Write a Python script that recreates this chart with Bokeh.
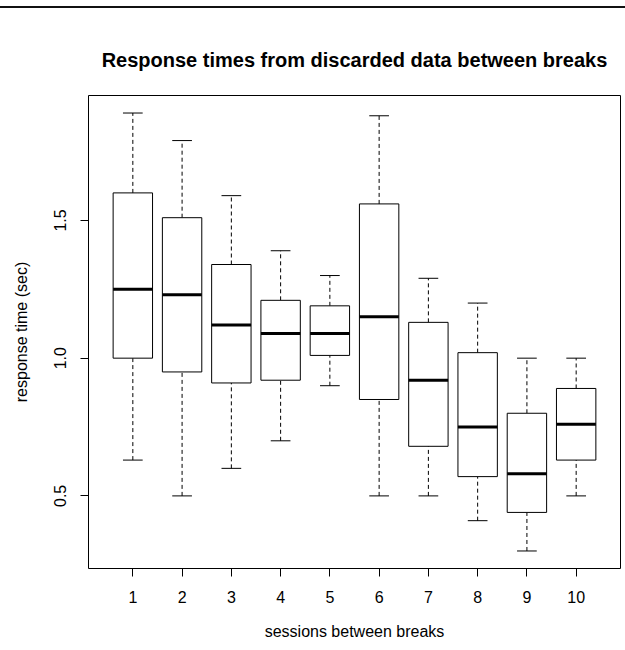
import numpy as np
from bokeh.plotting import figure
from bokeh.models import FixedTicker, ColumnDataSource, Range1d, Div
from bokeh.layouts import column
from bokeh.embed import file_html
from bokeh.resources import INLINE

sessions = [1, 2, 3, 4, 5, 6, 7, 8, 9, 10]
upper_whisker = [1.89, 1.79, 1.59, 1.39, 1.30, 1.88, 1.29, 1.20, 1.00, 1.00]
q3 = [1.60, 1.51, 1.34, 1.21, 1.19, 1.56, 1.13, 1.02, 0.80, 0.89]
median = [1.25, 1.23, 1.12, 1.09, 1.09, 1.15, 0.92, 0.75, 0.58, 0.76]
q1 = [1.00, 0.95, 0.91, 0.92, 1.01, 0.85, 0.68, 0.57, 0.44, 0.63]
lower_whisker = [0.63, 0.50, 0.60, 0.70, 0.90, 0.50, 0.50, 0.41, 0.30, 0.50]
y_ticks = [0.5, 1.0, 1.5]

FONT = "Liberation Sans"
box_w = 0.8
cap_w = 0.4

x = np.array(sessions, dtype=float)
src = ColumnDataSource(dict(
    x=x, q1=q1, q3=q3, med=median, lo=lower_whisker, hi=upper_whisker,
    cl=x - cap_w / 2, cr=x + cap_w / 2, bl=x - box_w / 2, br=x + box_w / 2,
))

ymin, ymax = min(lower_whisker), max(upper_whisker)
r = ymax - ymin
p = figure(width=625, height=642, output_backend="svg", toolbar_location=None,
           x_range=Range1d(0.5 - 0.4, len(sessions) + 0.5 + 0.4),
           y_range=Range1d(ymin - 0.04 * r, ymax + 0.04 * r),
           min_border_left=88, min_border_right=5, min_border_top=87, min_border_bottom=82,
           title="Response times from discarded data between breaks")

p.grid.visible = False
p.outline_line_color = "black"
p.outline_line_width = 1
p.background_fill_color = "white"
p.border_fill_color = "white"

p.title.align = "center"
p.title.text_font = FONT
p.title.text_font_size = "20px"
p.title.text_font_style = "bold"
p.title.text_color = "black"
p.title.standoff = 50

for ax in (p.xaxis[0], p.yaxis[0]):
    ax.axis_line_color = None
    ax.major_tick_line_color = "black"
    ax.major_tick_out = 8
    ax.major_tick_in = 0
    ax.minor_tick_line_color = None
    ax.major_label_text_font = FONT
    ax.major_label_text_font_size = "16px"
    ax.major_label_text_color = "black"
    ax.axis_label_text_font = FONT
    ax.axis_label_text_font_size = "16px"
    ax.axis_label_text_font_style = "normal"
    ax.axis_label_text_color = "black"

p.xaxis.ticker = FixedTicker(ticks=sessions)
p.xaxis.major_label_standoff = 14
p.xaxis.axis_label = "sessions between breaks"
p.xaxis.axis_label_standoff = 17

p.yaxis.ticker = FixedTicker(ticks=y_ticks)
p.yaxis.major_label_overrides = {t: f"{t:.1f}" for t in y_ticks}
p.yaxis.major_label_orientation = "parallel"
p.yaxis.major_label_standoff = 14
p.yaxis.axis_label = "response time (sec)"
p.yaxis.axis_label_standoff = 22

# whiskers
p.segment(x0="x", y0="q3", x1="x", y1="hi", source=src, line_color="black", line_dash="4 3", line_width=1)
p.segment(x0="x", y0="lo", x1="x", y1="q1", source=src, line_color="black", line_dash="4 3", line_width=1)
# caps
p.segment(x0="cl", y0="hi", x1="cr", y1="hi", source=src, line_color="black", line_width=1)
p.segment(x0="cl", y0="lo", x1="cr", y1="lo", source=src, line_color="black", line_width=1)
# boxes
p.vbar(x="x", width=box_w, bottom="q1", top="q3", source=src, fill_color="white", line_color="black", line_width=1)
# medians
p.segment(x0="bl", y0="med", x1="br", y1="med", source=src, line_color="black", line_width=3)

top_rule = Div(text="", width=625, height=2, margin=(6, 0, 0, 0),
               styles={"background-color": "#111111"})
layout = column(top_rule, p, spacing=0)

open("out.html", "w").write(file_html(layout, INLINE))
